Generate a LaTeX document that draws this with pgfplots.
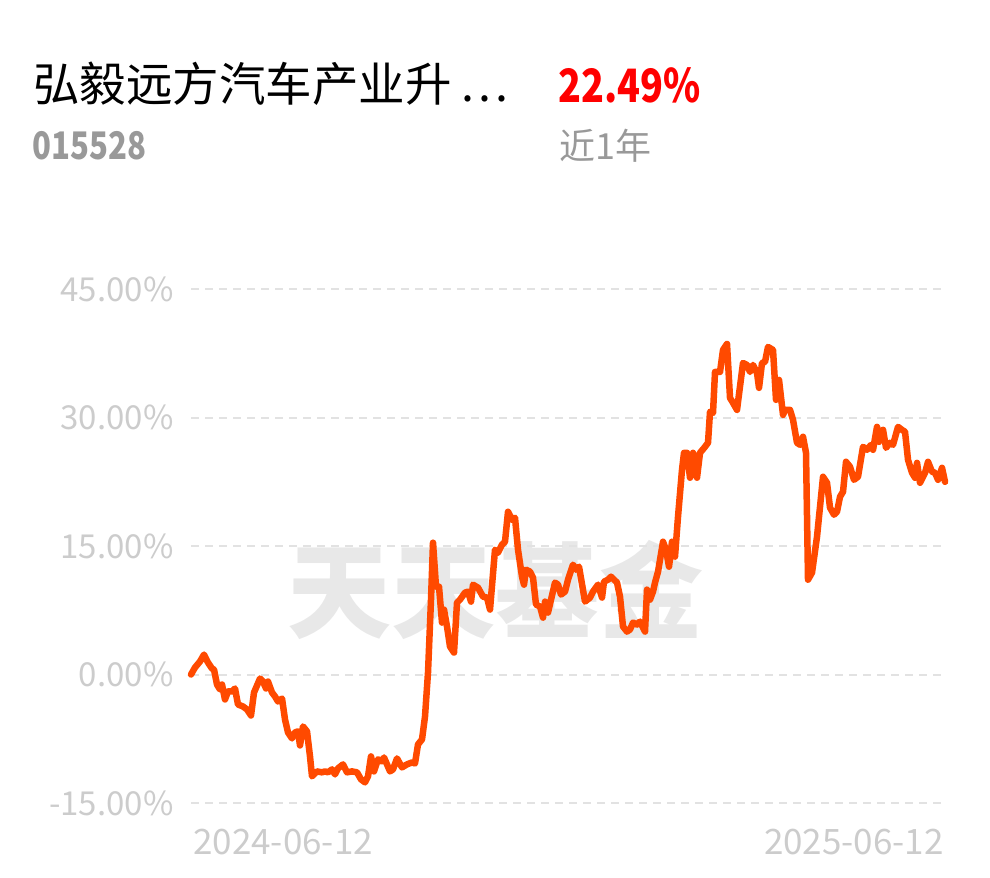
\documentclass[border=0pt]{standalone}
\usepackage{pgfplots}
\pgfplotsset{compat=1.18}
\usepackage{fontspec}
\setmainfont{Noto Sans CJK SC}
\newfontfamily\cjk{Noto Sans CJK SC}
\newfontfamily\num[FakeStretch=0.82]{Noto Sans CJK SC}
\definecolor{lineor}{HTML}{FF4A00}
\definecolor{tickgray}{HTML}{CCCCCC}
\definecolor{gridgray}{HTML}{E2E2E2}
\definecolor{subgray}{HTML}{999999}
\definecolor{wmgray}{HTML}{E8E8E8}

\begin{document}
\begin{tikzpicture}[x=1bp,y=1bp]
\path[use as bounding box] (0,0) rectangle (990,-878);

% header
\node[anchor=west,inner sep=0] at (33,-84) {\cjk\fontsize{46.5bp}{50bp}\selectfont 弘毅远方汽车产业升\hspace{10bp}.\hspace{4bp}.\hspace{4bp}.};
\node[anchor=west,inner sep=0,text=red] at (558,-85) {\num\bfseries\fontsize{46bp}{50bp}\selectfont 22.49\%};
\node[anchor=west,inner sep=0,text=subgray] at (32,-146) {\num\bfseries\fontsize{38bp}{42bp}\selectfont 015528};
\node[anchor=west,inner sep=0,text=subgray] at (559,-146) {\cjk\fontsize{36bp}{40bp}\selectfont 近1年};

% watermark
\node[inner sep=0,text=wmgray] at (495,-590) {\cjk\bfseries\fontsize{104bp}{110bp}\selectfont 天天基金};

\begin{axis}[
    at={(191bp,-803bp)}, anchor=south west,
    scale only axis, width=755bp, height=514bp,
    xmin=0, xmax=755, ymin=-15, ymax=45,
    axis line style={draw=none},
    major tick length=0pt,
    xtick=\empty,
    ytick={-15,0,15,30,45},
    yticklabels={-15.00\%,0.00\%,15.00\%,30.00\%,45.00\%},
    yticklabel style={font=\cjk\fontsize{33bp}{36bp}\selectfont, text=tickgray, anchor=east, xshift=-14bp},
    ymajorgrids=true,
    grid style={draw=gridgray, line width=2bp, dash pattern=on 8bp off 6bp},
    clip=false,
]
\addplot[color=lineor, line width=6.5bp, line join=round, line cap=round] coordinates {
(0,0)(4,0.82)(9,1.52)(13,2.33)(17,1.40)(21,0.70)(23,0.58)(26,-1.17)(29,-1.75)(31,-1.17)
(34,-2.91)(37,-1.98)(41,-1.98)(44,-1.63)(47,-3.50)(52,-3.73)(56,-4.08)(60,-4.78)(63,-2.10)
(69,-0.47)(72,-0.82)(75,-1.63)(77,-0.82)(81,-2.10)(84,-2.56)(87,-3.15)(91,-2.80)(94,-5.25)
(97,-6.76)(101,-7.46)(104,-6.76)(107,-6.64)(109,-8.28)(112,-6.06)(116,-6.64)(119,-9.56)
(121,-11.89)(126,-11.31)(131,-11.42)(134,-11.31)(137,-11.42)(141,-11.07)(144,-11.66)
(147,-10.96)(152,-10.49)(156,-11.42)(161,-11.31)(166,-11.42)(170,-12.24)(174,-12.59)
(177,-11.89)(180,-9.56)(183,-11.31)(187,-9.91)(191,-10.14)(193,-9.68)(199,-11.31)
(202,-11.07)(206,-9.79)(211,-10.84)(216,-10.49)(221,-10.26)(224,-10.38)(227,-8.16)
(231,-7.58)(234,-4.90)(237,0.23)(240,8.74)(242,15.39)(245,10.26)(248,10.26)(251,6.06)
(253,7.58)(256,5.60)(259,3.26)(263,2.56)(266,8.39)(269,8.74)(274,9.56)(277,9.68)(280,8.51)
(282,10.49)(287,10.14)(292,9.09)(296,8.98)(299,7.58)(304,14.57)(307,14.22)(311,15.16)
(314,15.50)(317,19.00)(321,18.07)(324,18.30)(327,14.57)(331,11.42)(333,10.49)(335,12.24)
(339,12.01)(342,11.31)(345,8.16)(349,7.93)(352,6.64)(354,8.51)(357,7.23)(364,10.73)
(367,10.49)(370,9.33)(374,9.68)(377,11.07)(382,12.82)(385,12.24)(388,12.59)(394,8.51)
(399,8.98)(402,9.68)(407,10.49)(411,8.98)(413,10.84)(417,11.07)(420,11.42)(426,10.73)
(429,9.09)(432,5.60)(436,5.01)(439,5.25)(442,6.06)(446,5.83)(449,6.18)(454,5.01)(456,9.91)
(459,8.74)(462,9.68)(464,10.73)(467,12.00)(472,15.50)(475,14.57)(478,12.59)(481,15.50)
(484,13.76)(487,18.42)(491,23.90)(493,25.88)(496,25.88)(499,22.97)(502,25.88)(506,22.97)
(509,25.88)(514,26.58)(517,27.05)(519,30.66)(522,30.54)(524,35.32)(529,35.32)(532,37.89)
(536,38.59)(539,32.29)(542,31.71)(546,30.89)(552,36.37)(556,36.14)(559,35.32)(562,36.14)
(566,35.21)(568,33.46)(571,36.37)(574,36.49)(577,38.24)(582,37.89)(585,32.06)(588,34.39)
(592,30.31)(594,30.89)(599,30.89)(602,29.73)(606,27.05)(609,26.81)(612,27.75)(615,25.88)
(617,11.07)(621,11.89)(626,16.09)(632,23.08)(636,22.38)(639,19.47)(643,18.65)(646,19.00)
(649,20.75)(652,21.33)(655,24.83)(659,24.25)(663,22.73)(667,23.08)(672,26.58)(676,26.23)
(680,26.81)(682,26.23)(686,28.91)(688,27.16)(692,28.56)(695,26.46)(699,27.05)(702,26.81)
(707,28.91)(711,28.56)(714,28.33)(717,25.06)(721,23.55)(724,22.97)(726,24.71)(729,22.38)
(734,23.55)(737,24.83)(741,23.67)(744,23.55)(747,22.73)(751,24.13)(754,22.49)
};
\end{axis}

% date labels
\node[anchor=west,inner sep=0,text=tickgray] at (193,-842) {\cjk\fontsize{35bp}{38bp}\selectfont 2024-06-12};
\node[anchor=east,inner sep=0,text=tickgray] at (944,-842) {\cjk\fontsize{35bp}{38bp}\selectfont 2025-06-12};
\end{tikzpicture}
\end{document}
